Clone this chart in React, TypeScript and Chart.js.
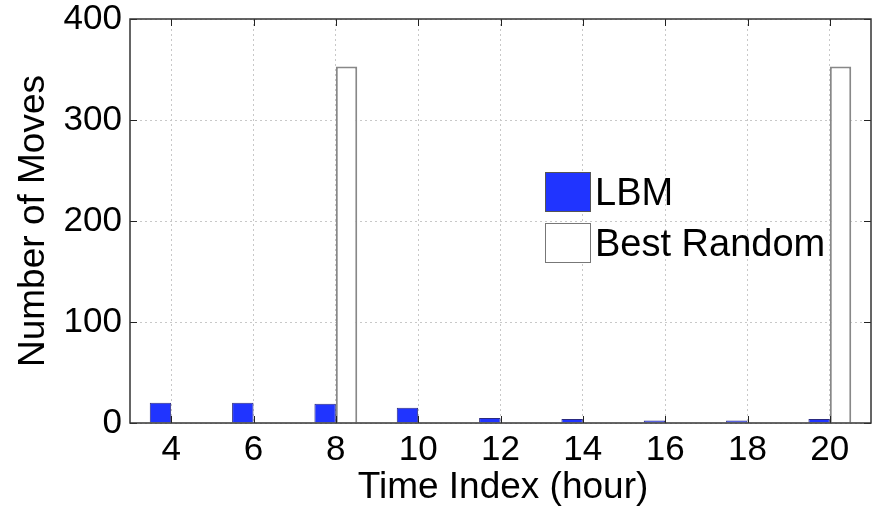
import React, { useEffect, useRef } from "react";
import { Chart, registerables } from "chart.js";

Chart.register(...registerables);

const categories = ["4", "6", "8", "10", "12", "14", "16", "18", "20"];
const lbmValues = [20, 20, 19, 15, 5, 4, 2.5, 2.5, 4];
const randomValues = [0, 0, 353, 0, 0, 0, 0, 0, 353];
const yTicks = [0, 100, 200, 300, 400];
const seriesNames = ["LBM", "Best Random"];
const xTitle = "Time Index (hour)";
const yTitle = "Number of Moves";

const FONT = "'Liberation Sans', Arial, Helvetica, sans-serif";
const BLUE = "rgb(32, 52, 255)";

const framePlugin = {
  id: "frame",
  afterDraw(chart: any) {
    const { ctx, chartArea } = chart;
    const { left, right, top, bottom } = chartArea;
    const xs = chart.scales.x;
    const ys = chart.scales.y;
    ctx.save();
    ctx.strokeStyle = "#222";
    ctx.lineWidth = 1;
    ctx.beginPath();
    for (let i = 0; i < categories.length; i++) {
      const px = Math.round(xs.getPixelForValue(i)) + 0.5;
      ctx.moveTo(px, bottom);
      ctx.lineTo(px, bottom - 7);
      ctx.moveTo(px, top);
      ctx.lineTo(px, top + 7);
    }
    for (const v of yTicks) {
      const py = Math.round(ys.getPixelForValue(v)) + 0.5;
      ctx.moveTo(left, py);
      ctx.lineTo(left + 7, py);
      ctx.moveTo(right, py);
      ctx.lineTo(right - 7, py);
    }
    ctx.stroke();
    ctx.strokeStyle = "#333";
    ctx.lineWidth = 1.5;
    ctx.strokeRect(left, top, right - left, bottom - top);

    // legend
    const lx = 545;
    const ly1 = 172;
    const ly2 = 223;
    const bw = 45;
    const bh = 39;
    ctx.fillStyle = BLUE;
    ctx.fillRect(lx, ly1, bw, bh);
    ctx.strokeStyle = "#555";
    ctx.lineWidth = 1;
    ctx.strokeRect(lx + 0.5, ly1 + 0.5, bw, bh);
    ctx.fillStyle = "#fff";
    ctx.fillRect(lx, ly2, bw, bh);
    ctx.strokeStyle = "#777";
    ctx.strokeRect(lx + 0.5, ly2 + 0.5, bw, bh);
    ctx.fillStyle = "#000";
    ctx.font = `38px ${FONT}`;
    ctx.textAlign = "left";
    ctx.textBaseline = "alphabetic";
    ctx.fillText(seriesNames[0], 595, 205);
    ctx.fillText(seriesNames[1], 595, 256);

    // axis titles
    ctx.font = `37px ${FONT}`;
    ctx.textAlign = "center";
    ctx.textBaseline = "alphabetic";
    ctx.fillText(xTitle, 503, 498);
    ctx.save();
    ctx.translate(44, 221);
    ctx.rotate(-Math.PI / 2);
    ctx.fillText(yTitle, 0, 0);
    ctx.restore();
    ctx.restore();
  },
};

export default function App() {
  const ref = useRef<HTMLCanvasElement>(null);
  useEffect(() => {
    if (!ref.current) return;
    const chart = new Chart(ref.current, {
      type: "bar",
      data: {
        labels: categories,
        datasets: [
          {
            label: seriesNames[0],
            data: lbmValues,
            backgroundColor: BLUE,
            borderColor: "#2a2a80",
            borderWidth: 1,
            categoryPercentage: 0.52,
            barPercentage: 1,
          },
          {
            label: seriesNames[1],
            data: randomValues,
            backgroundColor: "#ffffff",
            borderColor: "#888888",
            borderWidth: 2,
            categoryPercentage: 0.52,
            barPercentage: 1,
          },
        ],
      },
      options: {
        responsive: false,
        animation: false,
        maintainAspectRatio: false,
        layout: { padding: { top: 19, right: 6, left: 0, bottom: 0 } },
        plugins: {
          legend: { display: false },
          tooltip: { enabled: false },
        },
        scales: {
          x: {
            offset: true,
            grid: {
              offset: false,
              color: "#c8c8c8",
              lineWidth: 1,
              drawTicks: false,
            } as any,
            border: { display: false, dash: [2, 3] },
            ticks: {
              color: "#000",
              font: { family: FONT, size: 35 },
              padding: 6,
              maxRotation: 0,
            },
            afterFit(scale: any) {
              scale.height = 87;
              scale.paddingLeft = 0;
              scale.paddingRight = 0;
            },
          },
          y: {
            min: 0,
            max: 400,
            grid: { color: "#c8c8c8", lineWidth: 1, drawTicks: false },
            border: { display: false, dash: [2, 3] },
            ticks: {
              stepSize: 100,
              color: "#000",
              font: { family: FONT, size: 35 },
              padding: 8,
            },
            afterFit(scale: any) {
              scale.width = 130;
              scale.paddingTop = 0;
              scale.paddingBottom = 0;
            },
          },
        },
      },
      plugins: [framePlugin],
    });
    return () => chart.destroy();
  }, []);
  return (
    <div style={{ position: "fixed", left: 0, top: 0, width: 877, height: 510, background: "#fff" }}>
      <canvas ref={ref} width={877} height={510} style={{ width: 877, height: 510 }} />
    </div>
  );
}
